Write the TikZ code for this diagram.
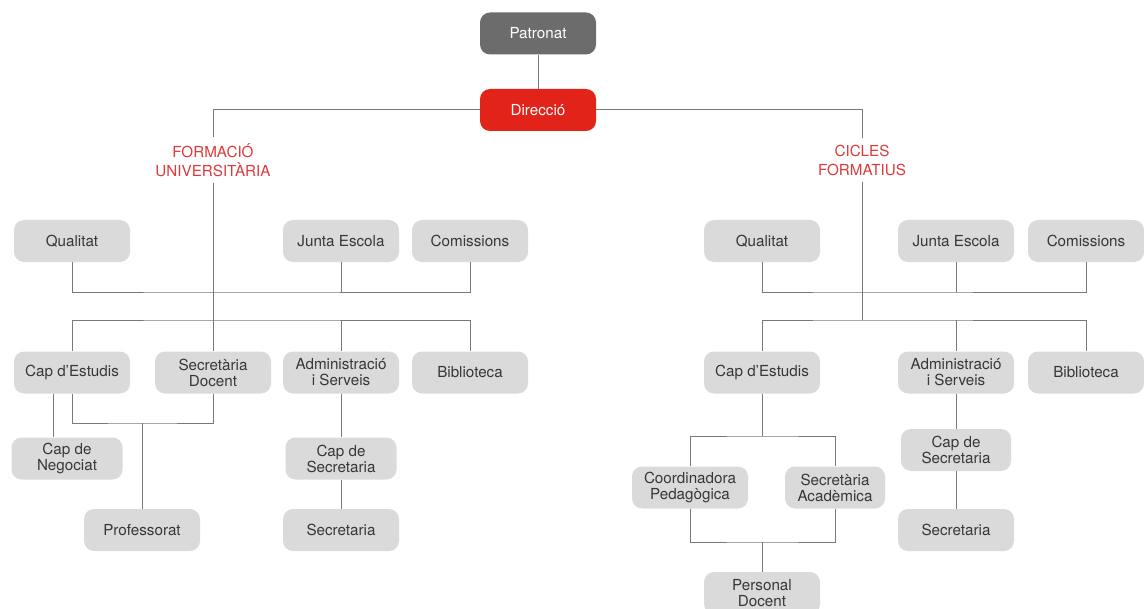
\documentclass[tikz,border=0pt]{standalone}
\usepackage{fontspec}
\setmainfont{TeX Gyre Heros}

\definecolor{boxgray}{RGB}{218,218,218}
\definecolor{darkbox}{RGB}{108,108,108}
\definecolor{dirred}{RGB}{226,35,26}
\definecolor{labred}{RGB}{221,58,58}
\definecolor{linegray}{RGB}{120,120,120}
\definecolor{txtgray}{RGB}{55,55,55}

\begin{document}
\begin{tikzpicture}[x=0.5pt,y=-0.5pt,
    unit/.style={rounded corners=5pt, fill=boxgray, text=txtgray, minimum width=58pt,
        minimum height=21pt, align=center, inner sep=1pt, font=\fontsize{7.6}{8}\selectfont},
    topunit/.style={unit, fill=darkbox, text=white},
    dirunit/.style={unit, fill=dirred, text=white},
    branch/.style={fill=white, text=labred, align=center, inner sep=3pt,
        font=\fontsize{7.6}{9.5}\selectfont},
    conn/.style={draw=linegray, line width=0.5pt}]
    \useasboundingbox (0,0) rectangle (1144,609);

    % Patronat and Direcció
    \node[topunit] (pat) at (538,33.5) {Patronat};
    \node[dirunit] (dir) at (538,110) {Direcció};

    % Branch labels
    \node[branch] (fu) at (213,160) {FORMACIÓ\\UNIVERSITÀRIA};
    \node[branch] (cf) at (862,160) {CICLES\\FORMATIUS};

    % Formació universitària: first row
    \node[unit] (qL) at (72,241) {Qualitat};
    \node[unit] (jL) at (341,241) {Junta Escola};
    \node[unit] (cL) at (470,241) {Comissions};

    % Formació universitària: second row
    \node[unit] (ceL) at (72,372.5) {Cap d’Estudis};
    \node[unit] (sdL) at (213,372.5) {Secretària\\Docent};
    \node[unit] (adL) at (341,372.5) {Administració\\i Serveis};
    \node[unit] (biL) at (470,372.5) {Biblioteca};

    % Formació universitària: lower units
    \node[unit,minimum width=55.5pt] (cnL) at (67,458.5) {Cap de\\Negociat};
    \node[unit,minimum width=55.5pt] (csL) at (341,458.5) {Cap de\\Secretaria};
    \node[unit] (prL) at (142,530) {Professorat};
    \node[unit] (seL) at (341,530) {Secretaria};

    % Cicles formatius: first row
    \node[unit] (qR) at (762,241) {Qualitat};
    \node[unit] (jR) at (956,241) {Junta Escola};
    \node[unit] (cR) at (1086,241) {Comissions};

    % Cicles formatius: second row
    \node[unit] (ceR) at (762,372.5) {Cap d’Estudis};
    \node[unit] (adR) at (956,372.5) {Administració\\i Serveis};
    \node[unit] (biR) at (1086,372.5) {Biblioteca};

    % Cicles formatius: lower units
    \node[unit] (coR) at (690,487.5) {Coordinadora\\Pedagògica};
    \node[unit,minimum width=50pt] (saR) at (835,487.5) {Secretària\\Acadèmica};
    \node[unit,minimum width=55pt] (csR) at (956,450) {Cap de\\Secretaria};
    \node[unit] (seR) at (956,530) {Secretaria};
    \node[unit] (pdR) at (762,593) {Personal\\Docent};

    % Junction points
    \coordinate (busL1) at (213,292);
    \coordinate (busL2) at (213,320);
    \coordinate (jPr) at (142,423);
    \coordinate (busR1) at (862,292);
    \coordinate (busR2) at (862,320);
    \coordinate (jCo) at (762,436);
    \coordinate (jPd) at (762,542);

    % Top connectors
    \draw[conn] (pat) -- (dir);
    \draw[conn] (dir.west) -| (fu.north);
    \draw[conn] (dir.east) -| (cf.north);

    % Formació universitària connectors
    \draw[conn] (fu.south) -- (sdL.north);
    \draw[conn] (qL.south) |- (busL1) -| (cL.south);
    \draw[conn] (jL.south) -- (jL.south |- busL1);
    \draw[conn] (ceL.north) |- (busL2) -| (biL.north);
    \draw[conn] (adL.north) -- (adL.north |- busL2);
    \draw[conn] ([xshift=-9.5pt]ceL.south) -- ([xshift=-9.5pt]ceL.south |- cnL.north);
    \draw[conn] (ceL.south) |- (jPr) -| (sdL.south);
    \draw[conn] (jPr) -- (prL.north);
    \draw[conn] (adL.south) -- (csL.north);
    \draw[conn] (csL.south) -- (seL.north);

    % Cicles formatius connectors
    \draw[conn] (cf.south) -- (busR2);
    \draw[conn] (qR.south) |- (busR1) -| (cR.south);
    \draw[conn] (jR.south) -- (jR.south |- busR1);
    \draw[conn] (ceR.north) |- (busR2) -| (biR.north);
    \draw[conn] (adR.north) -- (adR.north |- busR2);
    \draw[conn] (ceR.south) -- (jCo);
    \draw[conn] (coR.north) |- (jCo) -| (saR.north);
    \draw[conn] (coR.south) |- (jPd) -| (saR.south);
    \draw[conn] (jPd) -- (pdR.north);
    \draw[conn] (adR.south) -- (csR.north);
    \draw[conn] (csR.south) -- (seR.north);
\end{tikzpicture}
\end{document}
